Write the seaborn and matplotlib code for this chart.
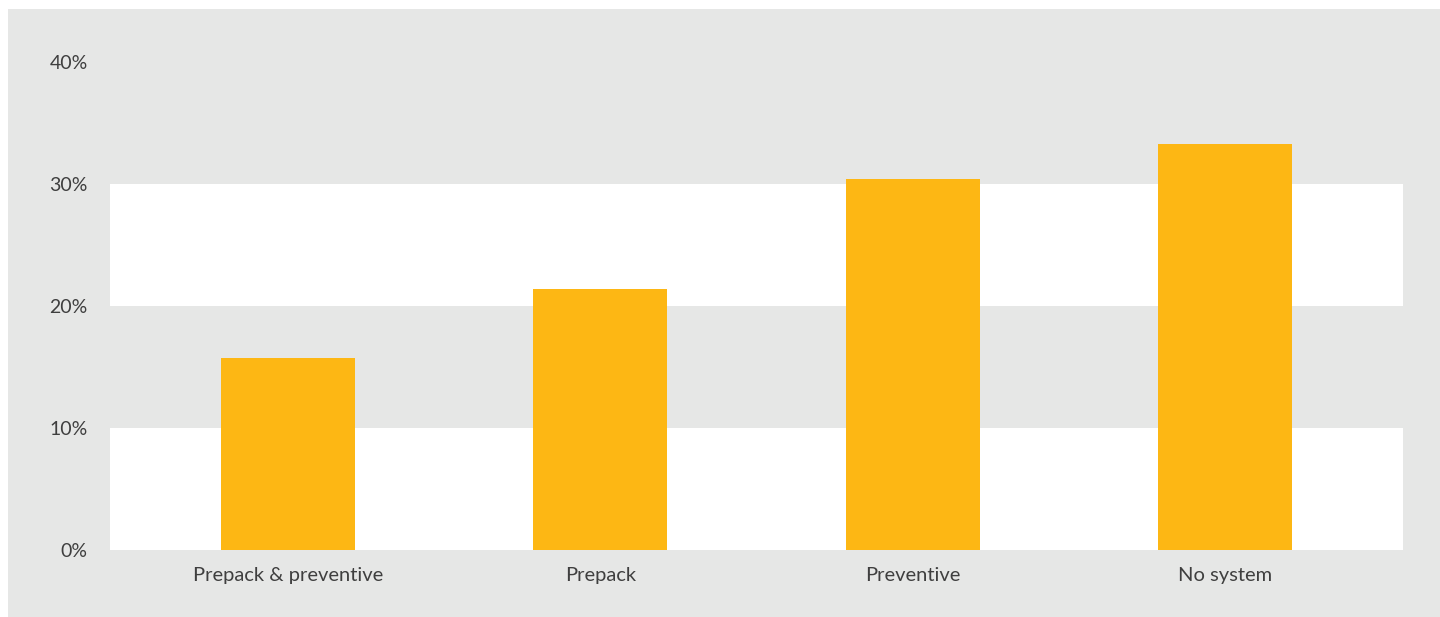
import matplotlib
matplotlib.use("Agg")
import matplotlib.pyplot as plt
import matplotlib.patches as mpatches
import seaborn as sns
import pandas as pd

categories = ["Prepack & preventive", "Prepack", "Preventive", "No system"]
shares = [15.7, 21.4, 30.4, 33.3]
y_ticks = [0, 10, 20, 30, 40]
y_tick_labels = ["0%", "10%", "20%", "30%", "40%"]

BAR = "#FDB714"
PANEL = "#E6E7E6"
TEXT = "#3F3F3F"

sns.set_theme(style="white")
plt.rcParams["font.family"] = ["Lato", "DejaVu Sans"]

df = pd.DataFrame({"category": categories, "share": shares})

W, H = 1440, 617
fig = plt.figure(figsize=(W / 100, H / 100), dpi=100, facecolor="white")
fig.patches.append(mpatches.Rectangle((8 / W, 0), 1 - 8 / W, 1 - 9 / H,
                                      transform=fig.transFigure,
                                      facecolor=PANEL, edgecolor="none", zorder=-10))

ax = fig.add_axes([110 / W, (H - 550) / H, (1403 - 110) / W, (550 - 62) / H])
ax.set_facecolor(PANEL)

# alternating white bands behind the bars
for lo in (0, 20):
    ax.axhspan(lo, lo + 10, color="white", zorder=0, lw=0)

sns.barplot(data=df, x="category", y="share", color=BAR, saturation=1,
            width=0.43, linewidth=0, edgecolor="none", ax=ax, zorder=2)

ax.set_xlim(-0.57, 3.57)
ax.set_ylim(0, 40)
ax.set_yticks(y_ticks)
ax.set_yticklabels(y_tick_labels)
ax.set_xlabel("")
ax.set_ylabel("")
for s in ax.spines.values():
    s.set_visible(False)
ax.tick_params(axis="y", length=0, pad=16, labelsize=14, labelcolor=TEXT)
ax.tick_params(axis="x", length=0, pad=12, labelsize=14.5, labelcolor=TEXT)

fig.savefig("out.png", dpi=100, facecolor="white")
